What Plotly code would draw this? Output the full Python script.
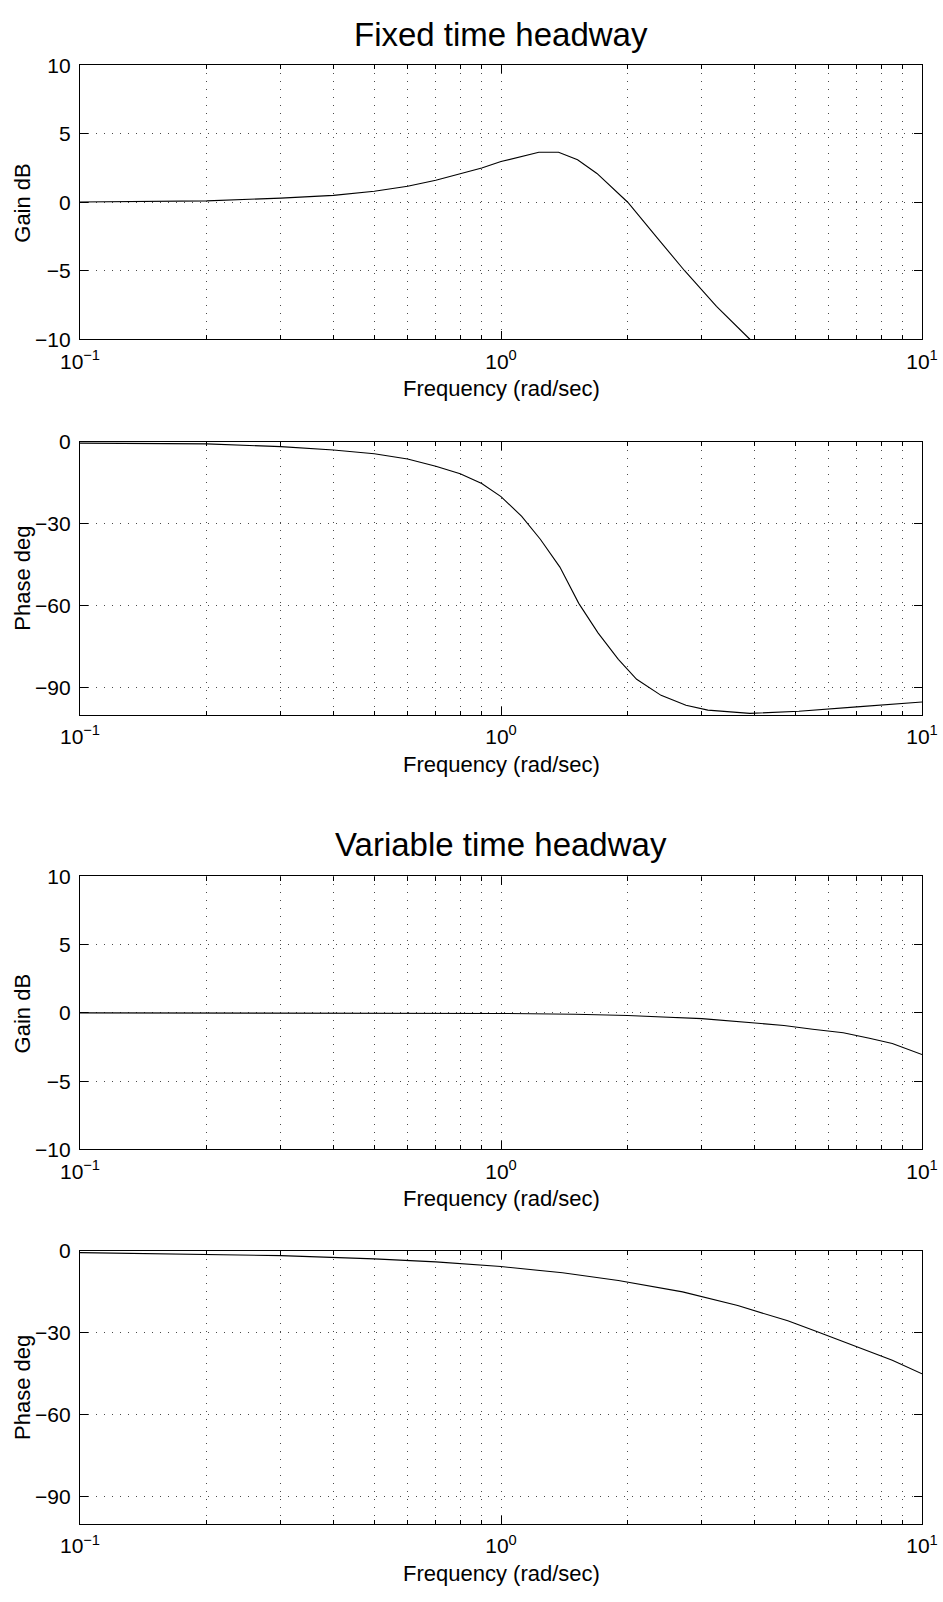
import plotly.graph_objects as go

# ---------------- data ----------------
fixed_gain_w = [0.1, 0.2, 0.3, 0.4, 0.5, 0.6, 0.7, 0.8, 0.9, 1.0, 1.12, 1.23, 1.37,
                1.52, 1.69, 2.0, 2.35, 2.73, 3.25, 3.9, 4.6]
fixed_gain_db = [0.02, 0.1, 0.3, 0.5, 0.8, 1.17, 1.6, 2.06, 2.5, 2.97, 3.35, 3.65, 3.65,
                 3.1, 2.1, 0.0, -2.6, -5.0, -7.6, -10.0, -12.4]

fixed_phase_w = [0.1, 0.2, 0.3, 0.4, 0.5, 0.6, 0.7, 0.8, 0.9, 1.0, 1.12, 1.24, 1.38,
                 1.53, 1.7, 1.9, 2.1, 2.4, 2.75, 3.1, 3.9, 5.1, 7.0, 10.0]
fixed_phase_deg = [-0.5, -0.8, -1.8, -3.0, -4.4, -6.3, -9.0, -11.7, -15.3, -20.1, -27.3,
                   -35.7, -45.9, -59.2, -70.0, -79.7, -87.0, -92.9, -96.5, -98.3, -99.5,
                   -98.7, -97.1, -95.3]

var_gain_w = [0.1, 0.2, 0.5, 1.0, 1.5, 2.0, 3.0, 4.0, 4.7, 5.5, 6.5, 7.5, 8.5, 10.0]
var_gain_db = [0.0, 0.0, -0.01, -0.04, -0.1, -0.19, -0.42, -0.72, -0.92, -1.2, -1.45,
               -1.85, -2.24, -3.05]

var_phase_w = [0.1, 0.2, 0.3, 0.5, 0.7, 1.0, 1.4, 1.9, 2.7, 3.65, 4.8, 5.6, 7.0, 8.5, 10.0]
var_phase_deg = [-0.6, -1.2, -1.7, -2.9, -4.0, -5.7, -8.0, -10.8, -15.0, -20.0, -25.6,
                 -29.4, -35.0, -40.0, -45.0]

x_major = [0.1, 1, 10]
x_major_text = ["10<sup>\u22121</sup>", "10<sup>0</sup>", "10<sup>1</sup>"]
x_minor = [0.2, 0.3, 0.4, 0.5, 0.6, 0.7, 0.8, 0.9, 2, 3, 4, 5, 6, 7, 8, 9]

gain_ticks = [-10, -5, 0, 5, 10]
gain_text = ["\u221210", "\u22125", "0", "5", "10"]
phase_ticks = [-90, -60, -30, 0]
phase_text = ["\u221290", "\u221260", "\u221230", "0"]

titles = ["Fixed time headway", "Variable time headway"]
xlabel = "Frequency (rad/sec)"
ylabels = ["Gain dB", "Phase deg", "Gain dB", "Phase deg"]

# ---------------- layout geometry ----------------
W, H = 943, 1602
L, R = 80, 922
panels_px = [(54, 332), (436, 713), (877, 1154), (1257, 1534)]

def py(px):
    return 1 - px / H

FONT = "Liberation Sans, Arial, Helvetica, sans-serif"
GRID = "#4a4a4a"
DASH = "1px,7px"

fig = go.Figure()
series = [(fixed_gain_w, fixed_gain_db), (fixed_phase_w, fixed_phase_deg),
          (var_gain_w, var_gain_db), (var_phase_w, var_phase_deg)]
for i, (xw, yv) in enumerate(series):
    sfx = "" if i == 0 else str(i + 1)
    fig.add_trace(go.Scatter(x=xw, y=yv, mode="lines",
                             line=dict(color="black", width=1.1),
                             xaxis="x" + sfx, yaxis="y" + sfx, showlegend=False,
                             hoverinfo="skip"))

common = dict(showline=True, linecolor="black", linewidth=1.3, mirror="ticks",
              ticks="inside", ticklen=8, tickcolor="black", tickwidth=1,
              showgrid=True, gridcolor=GRID, gridwidth=1, griddash=DASH,
              zeroline=False, tickfont=dict(family=FONT, size=21, color="black"))

layout = dict(width=W, height=H, autosize=False,
              margin=dict(l=L, r=W - R, t=0, b=0, pad=0),
              paper_bgcolor="white", plot_bgcolor="white", showlegend=False)

annotations = []
for i, (top, bot) in enumerate(panels_px):
    sfx = "" if i == 0 else str(i + 1)
    dom = [py(bot), py(top)]
    layout["xaxis" + sfx] = dict(common, type="log", range=[-1, 1],
                                 tickmode="array", tickvals=x_major, ticktext=x_major_text,
                                 anchor="y" + sfx, ticklabelstandoff=3,
                                 minor=dict(tickmode="array", tickvals=x_minor,
                                            ticks="inside", ticklen=4, tickcolor="black",
                                            showgrid=True, gridcolor=GRID, griddash=DASH,
                                            gridwidth=1))
    if i % 2 == 0:
        yr, tv, tt = [-10, 10], gain_ticks, gain_text
    else:
        yr, tv, tt = [-100, 0], phase_ticks, phase_text
    layout["yaxis" + sfx] = dict(common, range=yr, tickmode="array", tickvals=tv,
                                 ticktext=tt, domain=dom, anchor="x" + sfx,
                                 ticklabelstandoff=4)
    annotations.append(dict(text=xlabel, xref="paper", yref="paper", x=0.5,
                            y=py(bot + 50), xanchor="center", yanchor="middle",
                            showarrow=False,
                            font=dict(family=FONT, size=22, color="black")))
    annotations.append(dict(text=ylabels[i], xref="paper", yref="paper",
                            x=(22.5 - L) / (R - L), y=py((top + bot) / 2),
                            xanchor="center", yanchor="middle", textangle=-90,
                            showarrow=False,
                            font=dict(family=FONT, size=22, color="black")))

for t, ypx in zip(titles, [22.5, 845]):
    annotations.append(dict(text=t, xref="paper", yref="paper", x=0.5, y=py(ypx),
                            xanchor="center", yanchor="middle", showarrow=False,
                            font=dict(family=FONT, size=33, color="black")))

layout["annotations"] = annotations
fig.update_layout(**layout)
fig.write_html("out.html")
